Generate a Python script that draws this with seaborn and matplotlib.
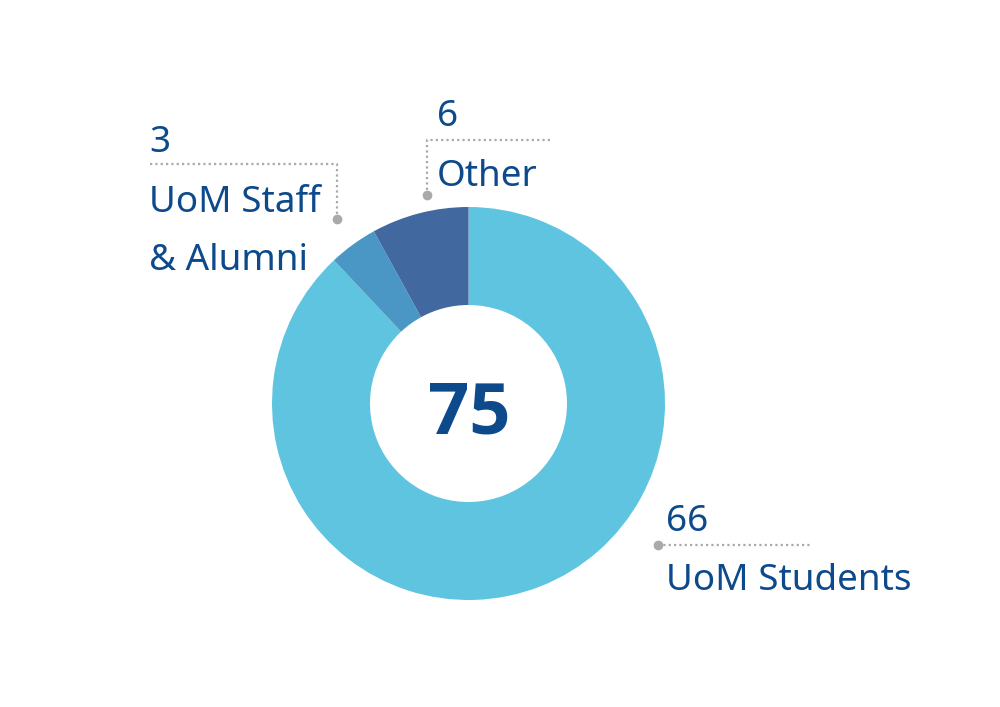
import matplotlib
matplotlib.use("Agg")
import matplotlib.pyplot as plt
from matplotlib import font_manager
import seaborn as sns

# data ------------------------------------------------------------
groups = ["UoM Students", "UoM Staff\n& Alumni", "Other"]
counts = [66, 3, 6]
total = sum(counts)

colors = ["#5ec4e0", "#4a96c4", "#41689f"]
text_col = "#0d4a8c"
line_col = "#aaaaaa"

sns.set_theme(style="white")
plt.rcParams["font.family"] = ["Noto Sans", "DejaVu Sans"]

# pick a family that really has a bold face for the centre number
bold_family = "DejaVu Sans"
for fam in ["Noto Sans", "Open Sans", "Lato", "Roboto", "Inter"]:
    if any(f.name == fam and str(f.weight) in ("700", "bold")
           for f in font_manager.fontManager.ttflist):
        bold_family = fam
        break

W, H = 1000, 707
fig = plt.figure(figsize=(W / 100, H / 100), dpi=100)
ax = fig.add_axes([0, 0, 1, 1])

def py(y):  # pixel row -> data y
    return H - y

# donut -----------------------------------------------------------
ax.pie(counts, colors=colors, startangle=90, counterclock=False,
       center=(468.5, py(403.5)), radius=196.5,
       wedgeprops=dict(width=98, linewidth=0))
ax.set_xlim(0, W)
ax.set_ylim(0, H)
ax.set_aspect("equal")
ax.axis("off")

ax.text(469, py(433), str(total), ha="center", va="baseline",
        fontsize=52, fontweight="bold", family=bold_family, color=text_col)

# labels with leader lines ---------------------------------------
fs = 26.5
dots = dict(color=line_col, lw=1.6, ls=(0, (1, 1.4)))

# Staff & Alumni
ax.text(149, py(152), str(counts[1]), fontsize=fs, color=text_col, va="baseline")
ax.text(149, py(212), "UoM Staff", fontsize=fs, color=text_col, va="baseline")
ax.text(149, py(270), "& Alumni", fontsize=fs, color=text_col, va="baseline")
ax.plot([150, 337, 337], [py(164), py(164), py(219)], **dots)
ax.plot([337], [py(219)], "o", color=line_col, ms=6)

# Other
ax.text(437, py(126), str(counts[2]), fontsize=fs, color=text_col, va="baseline")
ax.text(437, py(186), groups[2], fontsize=fs, color=text_col, va="baseline")
ax.plot([550, 427, 427], [py(140), py(140), py(195)], **dots)
ax.plot([427], [py(195)], "o", color=line_col, ms=6)

# Students
ax.text(666, py(531), str(counts[0]), fontsize=fs, color=text_col, va="baseline")
ax.text(666, py(590), groups[0], fontsize=fs, color=text_col, va="baseline")
ax.plot([658, 812], [py(545), py(545)], **dots)
ax.plot([658], [py(545)], "o", color=line_col, ms=6)

fig.savefig("out.png", dpi=100, facecolor="white")
